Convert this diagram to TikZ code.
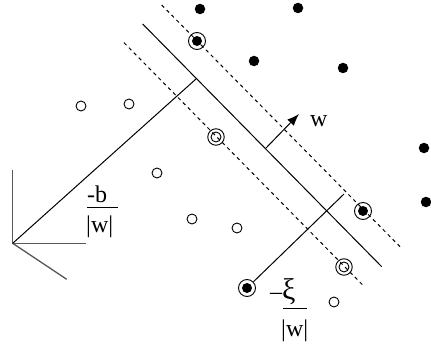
\documentclass[tikz,border=0pt]{standalone}
\usepackage{fontspec}
\setmainfont{Liberation Serif}
\usetikzlibrary{arrows.meta}

\begin{document}
\begin{tikzpicture}[x=1pt,y=-1pt,
		posdot/.style={circle,fill=black,minimum size=10.5pt,inner sep=0pt},
		negdot/.style={circle,draw=black,line width=0.9pt,minimum size=10pt,inner sep=0pt},
		svposdot/.style={circle,draw=black,line width=0.9pt,minimum size=17pt,inner sep=0pt,
			path picture={\fill[black] (path picture bounding box.center) circle (5pt);}},
		svnegdot/.style={circle,draw=black,line width=0.9pt,minimum size=16.5pt,inner sep=0pt,
			path picture={\draw[line width=0.9pt] (path picture bounding box.center) circle (5pt);}},
		lbl/.style={inner sep=0pt,font=\fontsize{24}{26}\selectfont},
		plane/.style={line width=1pt},
		margin/.style={line width=1pt,dash pattern=on 3.5pt off 3.5pt},
		axis/.style={line width=1.3pt,color=black!65}]
				\useasboundingbox (0,0) rectangle (431,345);

				%Nodes
				\node[posdot]   (p1) at (200,9) {};
				\node[posdot]   (p2) at (298,8) {};
				\node[posdot]   (p3) at (254,61) {};
				\node[posdot]   (p4) at (343,68) {};
				\node[posdot]   (p5) at (424,148) {};
				\node[posdot]   (p6) at (426,202) {};
				\node[svposdot] (s1) at (197,41) {};
				\node[svposdot] (s2) at (363,211) {};
				\node[svposdot] (s3) at (247,288) {};

				\node[negdot]   (q1) at (81,106) {};
				\node[negdot]   (q2) at (129,104) {};
				\node[negdot]   (q3) at (157,173) {};
				\node[negdot]   (q4) at (192,219) {};
				\node[negdot]   (q5) at (237,228) {};
				\node[negdot]   (q6) at (334,302) {};
				\node[svnegdot] (t1) at (216,137) {};
				\node[svnegdot] (t2) at (344,267) {};

				\coordinate      (o)   at (12.7,243.3);
				\coordinate      (ax1) at (12.7,170);
				\coordinate      (ax2) at (86,243.3);
				\coordinate      (ax3) at (66.7,279.3);
				\coordinate      (h1)  at (142.7,24);
				\coordinate      (h2)  at (381.7,266.7);
				\coordinate      (u1)  at (161.7,5);
				\coordinate      (u2)  at (400,246.7);
				\coordinate      (l1)  at (124,42.7);
				\coordinate      (l2)  at (362.7,285);
				\coordinate      (foot) at (196,79);
				\coordinate      (w0)  at (266,148);
				\coordinate      (w1)  at (299,114);
				\coordinate      (xi)  at (344,194);

				%Lines
				\draw[axis] (ax1) -- (o) -- (ax2);
				\draw[axis] (o) -- (ax3);
				\draw[plane] (o) -- (foot);
				\draw[plane] (h1) -- (h2);
				\draw[margin] (u1) -- (u2);
				\draw[margin] (l1) -- (l2);
				\draw[plane,-{Latex[length=12pt,width=9pt]}] (w0) -- (w1);
				\draw[plane] (s3) -- (xi);

				%Labels
				\node[lbl,anchor=base west] (wl) at (310,126) {w};
				\node[lbl,anchor=base west] (bn) at (87,202) {-b};
				\draw[line width=1pt] (87,207) -- (118,207);
				\node[lbl,anchor=base west] (bd) at (86,232) {|w|};
				\node[lbl,anchor=base west] (xn) at (270,299) {–{\fontsize{30}{30}\selectfont ξ}};
				\draw[line width=1pt] (283,308) -- (307,308);
				\node[lbl,anchor=base west] (xd) at (281,336) {|w|};
\end{tikzpicture}
\end{document}
